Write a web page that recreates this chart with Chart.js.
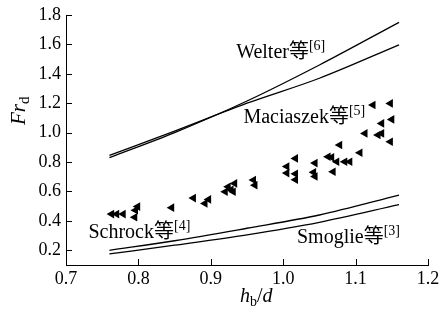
<!DOCTYPE html>
<html>
<head>
<meta charset="utf-8">
<script src="https://cdn.jsdelivr.net/npm/chart.js@4/dist/chart.umd.min.js"></script>
<style>
html,body{margin:0;padding:0;background:#fff;}
canvas{display:block;}
</style>
</head>
<body>
<canvas id="c" width="442" height="320"></canvas>
<script>
// ---- data ----
const xTicks = [0.7, 0.8, 0.9, 1.0, 1.1, 1.2];
const xTickLabels = ['0.7', '0.8', '0.9', '1.0', '1.1', '1.2'];
const yTicks = [0.2, 0.4, 0.6, 0.8, 1.0, 1.2, 1.4, 1.6, 1.8];
const yTickLabels = ['0.2', '0.4', '0.6', '0.8', '1.0', '1.2', '1.4', '1.6', '1.8'];

const lineX = [0.76, 0.85, 0.95, 1.05, 1.16];
const welterUpper = [0.83, 1.0, 1.215, 1.46, 1.75];
const welterLower = [0.845, 1.01, 1.2, 1.37, 1.597];
const schrockY = [0.2, 0.265, 0.35, 0.44, 0.575];
const smoglieY = [0.175, 0.235, 0.305, 0.39, 0.51];

const expX = [0.763, 0.770, 0.779, 0.795, 0.796, 0.799, 0.846, 0.876, 0.892, 0.897,
  0.920, 0.924, 0.928, 0.933, 0.931, 0.959, 0.961, 1.005, 1.005, 1.017,
  1.017, 1.017, 1.042, 1.044, 1.044, 1.062, 1.067, 1.074, 1.078, 1.069,
  1.085, 1.092, 1.106, 1.113, 1.131, 1.124, 1.148, 1.136, 1.150, 1.136, 1.148];
const expY = [0.446, 0.446, 0.446, 0.425, 0.472, 0.497, 0.490, 0.555, 0.519, 0.546,
  0.598, 0.632, 0.612, 0.655, 0.598, 0.678, 0.643, 0.770, 0.725, 0.825,
  0.720, 0.680, 0.730, 0.793, 0.702, 0.836, 0.832, 0.802, 0.916, 0.734,
  0.802, 0.802, 0.863, 0.995, 0.984, 1.188, 1.199, 1.063, 1.090, 0.995, 0.938];

const SERIF = '"Liberation Serif", "Noto Sans CJK SC", serif';
const curveLabels = [
  {x: 0.935, y: 1.505, name: 'Welter等', ref: '[6]'},
  {x: 0.945, y: 1.063, name: 'Maciaszek等', ref: '[5]'},
  {x: 0.731, y: 0.281, name: 'Schrock等', ref: '[4]'},
  {x: 1.019, y: 0.247, name: 'Smoglie等', ref: '[3]'}
];

Chart.defaults.font.family = SERIF;
Chart.defaults.font.size = 18;
Chart.defaults.color = '#000';

function pts(xs, ys) { return xs.map((x, i) => ({x: x, y: ys[i]})); }

function drawRuns(ctx, x, y, runs) {
  let cx = x;
  for (const r of runs) {
    ctx.font = r.font;
    ctx.fillText(r.text, cx, y + (r.dy || 0));
    cx += ctx.measureText(r.text).width;
  }
}

const annot = {
  id: 'annot',
  afterDraw(chart) {
    const ctx = chart.ctx;
    const xs = chart.scales.x, ys = chart.scales.y;
    const area = chart.chartArea;
    ctx.save();
    ctx.fillStyle = '#000';
    ctx.strokeStyle = '#000';
    ctx.lineWidth = 1;
    // inward tick marks
    ctx.beginPath();
    for (const v of xTicks) {
      const px = Math.round(xs.getPixelForValue(v)) + 0.5;
      ctx.moveTo(px, area.bottom);
      ctx.lineTo(px, area.bottom - 6);
    }
    for (const v of yTicks) {
      const py = Math.round(ys.getPixelForValue(v)) + 0.5;
      ctx.moveTo(area.left, py);
      ctx.lineTo(area.left + 6, py);
    }
    ctx.stroke();
    // tick labels
    ctx.font = '18px ' + SERIF;
    ctx.textAlign = 'right';
    ctx.textBaseline = 'middle';
    yTicks.forEach((v, i) => ctx.fillText(yTickLabels[i], area.left - 5, ys.getPixelForValue(v)));
    ctx.textAlign = 'center';
    ctx.textBaseline = 'top';
    xTicks.forEach((v, i) => ctx.fillText(xTickLabels[i], xs.getPixelForValue(v), area.bottom + 5));
    // curve labels
    ctx.textBaseline = 'alphabetic';
    ctx.textAlign = 'left';
    for (const l of curveLabels) {
      drawRuns(ctx, xs.getPixelForValue(l.x), ys.getPixelForValue(l.y), [
        {text: l.name, font: '20px ' + SERIF},
        {text: l.ref, font: '14px ' + SERIF, dy: -8}
      ]);
    }
    // x axis title
    drawRuns(ctx, 240, 302, [
      {text: 'h', font: 'italic 20px ' + SERIF},
      {text: 'b', font: '14px ' + SERIF, dy: 4},
      {text: '/', font: '20px ' + SERIF},
      {text: 'd', font: 'italic 20px ' + SERIF}
    ]);
    // y axis title
    ctx.translate(25, 125);
    ctx.rotate(-Math.PI / 2);
    drawRuns(ctx, 0, 0, [
      {text: 'Fr', font: 'italic 21px ' + SERIF},
      {text: 'd', font: '15px ' + SERIF, dy: 4}
    ]);
    ctx.restore();
  }
};

const lineStyle = {type: 'line', borderColor: '#000', borderWidth: 1.3, pointRadius: 0,
  fill: false, cubicInterpolationMode: 'monotone'};

new Chart(document.getElementById('c'), {
  type: 'scatter',
  data: {
    datasets: [
      Object.assign({label: 'Welter A', data: pts(lineX, welterUpper)}, lineStyle),
      Object.assign({label: 'Welter B', data: pts(lineX, welterLower)}, lineStyle),
      Object.assign({label: 'Schrock', data: pts(lineX, schrockY)}, lineStyle),
      Object.assign({label: 'Smoglie', data: pts(lineX, smoglieY)}, lineStyle),
      {label: 'Maciaszek', data: pts(expX, expY), showLine: false,
       pointStyle: 'triangle', rotation: -90, pointRadius: 5,
       backgroundColor: '#000', borderColor: '#000', borderWidth: 0}
    ]
  },
  options: {
    responsive: false,
    devicePixelRatio: 1,
    animation: false,
    layout: {padding: {left: 0, right: 14, top: 15, bottom: 0}},
    plugins: {legend: {display: false}, tooltip: {enabled: false}},
    scales: {
      x: {
        type: 'linear', min: 0.7, max: 1.2,
        grid: {display: false, drawTicks: false},
        border: {display: true, color: '#000', width: 1},
        afterBuildTicks: s => { s.ticks = xTicks.map(v => ({value: v})); },
        afterFit: s => { s.height = 55; },
        ticks: {display: false}
      },
      y: {
        type: 'linear', min: 0.1, max: 1.8,
        grid: {display: false, drawTicks: false},
        border: {display: true, color: '#000', width: 1},
        afterBuildTicks: s => { s.ticks = yTicks.map(v => ({value: v})); },
        afterFit: s => { s.width = 66; },
        ticks: {display: false}
      }
    }
  },
  plugins: [annot]
});
</script>
</body>
</html>
